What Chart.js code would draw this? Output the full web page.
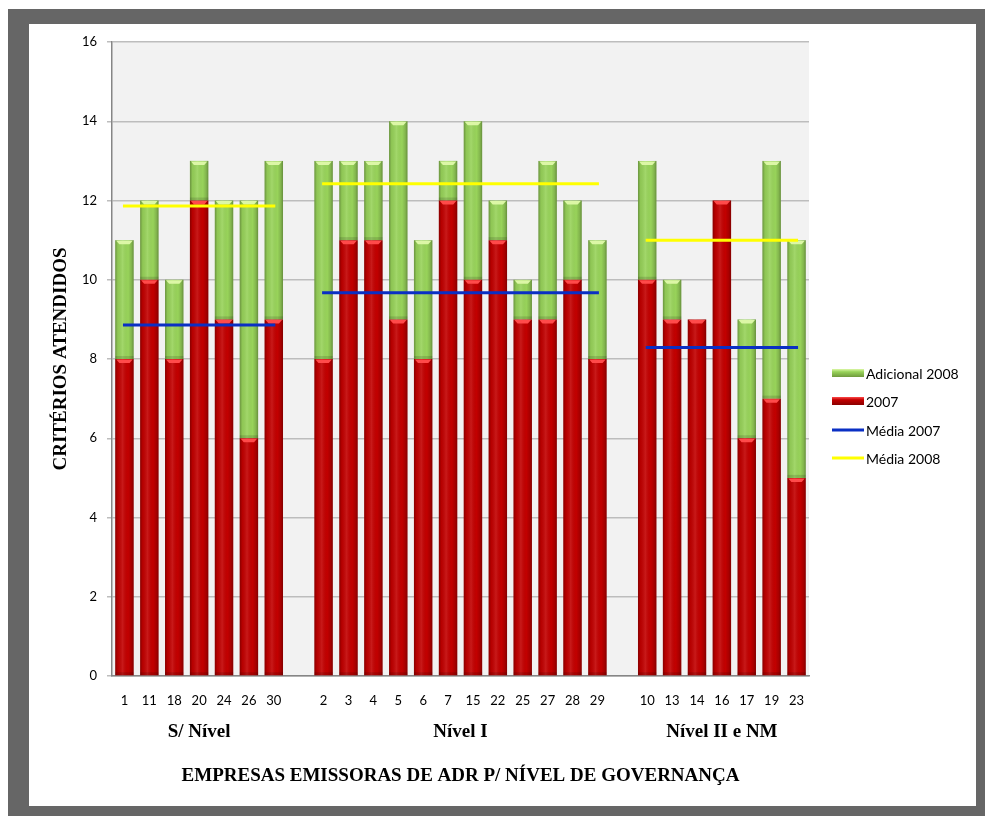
<!DOCTYPE html>
<html><head><meta charset="utf-8">
<script src="https://cdn.jsdelivr.net/npm/chart.js@4.4.1/dist/chart.umd.min.js"></script>
<style>html,body{margin:0;padding:0;background:#fff;}canvas{display:block;}</style>
</head><body>
<canvas id="c" width="985" height="816"></canvas>
<script>
// Governance groups and the ADR-issuing companies in each
const groupNames = ['S/ Nível', 'Nível I', 'Nível II e NM'];
const groupCompanies = [
  ['1', '11', '18', '20', '24', '26', '30'],
  ['2', '3', '4', '5', '6', '7', '15', '22', '25', '27', '28', '29'],
  ['10', '13', '14', '16', '17', '19', '23']
];
// Criteria met in 2007 and extra criteria met in 2008
const criterios2007 = [
  [8, 10, 8, 12, 9, 6, 9],
  [8, 11, 11, 9, 8, 12, 10, 11, 9, 9, 10, 8],
  [10, 9, 9, 12, 6, 7, 5]
];
const adicional2008 = [
  [3, 2, 2, 1, 3, 6, 4],
  [5, 2, 2, 5, 3, 1, 4, 1, 1, 4, 2, 3],
  [3, 1, 0, 0, 3, 6, 6]
];
// Group means
const media2007 = [8.86, 9.67, 8.29];
const media2008 = [11.86, 12.42, 11.0];
const yTickValues = [0, 2, 4, 6, 8, 10, 12, 14, 16];

// Flatten the groups onto one category axis with an empty slot between groups
const labels = [], red = [], green = [], avg07 = [], avg08 = [], groupCentres = [];
groupCompanies.forEach((companies, g) => {
  if (g > 0) { labels.push(''); red.push(null); green.push(null); avg07.push(null); avg08.push(null); }
  const start = labels.length;
  companies.forEach((name, i) => {
    labels.push(name);
    red.push(criterios2007[g][i]);
    green.push(adicional2008[g][i]);
    avg07.push(media2007[g]);
    avg08.push(media2008[g]);
  });
  groupCentres.push(start + (companies.length - 1) / 2);
});

const CAP = { '2007': '#ff4a4a', 'Adicional 2008': '#dcf7a6' };

// Outer frame and plot background
const frame = {
  id: 'frame',
  beforeDraw(chart) {
    const ctx = chart.ctx, a = chart.chartArea;
    ctx.save();
    ctx.fillStyle = '#fff'; ctx.fillRect(0, 0, 985, 816);
    ctx.fillStyle = '#666666'; ctx.fillRect(8, 9, 977, 807);
    ctx.fillStyle = '#fff'; ctx.fillRect(29, 24, 947, 782);
    ctx.fillStyle = '#f2f2f2'; ctx.fillRect(a.left, a.top, a.right - a.left, a.bottom - a.top);
    ctx.restore();
  }
};

// Cylinder-like shading on each bar drawn by the bar controller
const barShading = {
  id: 'barShading',
  afterDatasetDraw(chart, args) {
    const meta = args.meta;
    if (meta.type !== 'bar') return;
    const ds = chart.data.datasets[args.index];
    const ctx = chart.ctx;
    ctx.save();
    meta.data.forEach(bar => {
      const p = bar.getProps(['x', 'y', 'base', 'width'], true);
      if (p.y == null || isNaN(p.y)) return;
      const h = Math.abs(p.base - p.y);
      if (h < 1) return;
      const l = p.x - p.width / 2, w = p.width, top = Math.min(p.y, p.base);
      const g = ctx.createLinearGradient(l, 0, l + w, 0);
      g.addColorStop(0, 'rgba(0,0,0,0.30)');
      g.addColorStop(0.14, 'rgba(0,0,0,0.06)');
      g.addColorStop(0.4, 'rgba(255,255,255,0.10)');
      g.addColorStop(0.7, 'rgba(0,0,0,0)');
      g.addColorStop(0.88, 'rgba(0,0,0,0.14)');
      g.addColorStop(1, 'rgba(0,0,0,0.32)');
      ctx.fillStyle = g;
      ctx.fillRect(l, top, w, h);
      ctx.fillStyle = 'rgba(0,0,0,0.13)';
      ctx.fillRect(l, top + h - 3, w, 3);
      ctx.fillStyle = CAP[ds.label];
      ctx.beginPath();
      ctx.moveTo(l + 1, top + 0.5);
      ctx.lineTo(l + w - 1, top + 0.5);
      ctx.lineTo(l + w * 0.78, top + 4);
      ctx.lineTo(l + w * 0.22, top + 4);
      ctx.closePath();
      ctx.fill();
    });
    ctx.restore();
  }
};

// Legend at the right of the plot
const legendOrder = ['Adicional 2008', '2007', 'Média 2007', 'Média 2008'];
const sideLegend = {
  id: 'sideLegend',
  afterDraw(chart) {
    const ctx = chart.ctx;
    const x0 = chart.chartArea.right + 23, xText = x0 + 34;
    const rowY = [373, 401, 430, 458];
    ctx.save();
    ctx.font = '14px Lato';
    ctx.textBaseline = 'middle';
    ctx.fillStyle = '#000';
    legendOrder.forEach((name, i) => {
      const ds = chart.data.datasets.find(d => d.label === name);
      const y = rowY[i];
      if (ds.type === 'line') {
        ctx.fillStyle = ds.borderColor;
        ctx.fillRect(x0, y - 1.5, 32, 3);
      } else {
        const g = ctx.createLinearGradient(0, y - 4, 0, y + 4);
        g.addColorStop(0, CAP[name]);
        g.addColorStop(0.35, ds.backgroundColor);
        g.addColorStop(1, ds.borderColor);
        ctx.fillStyle = g;
        ctx.fillRect(x0, y - 4, 32, 8);
      }
      ctx.fillStyle = '#000';
      ctx.fillText(name, xText, y + 1);
    });
    ctx.restore();
  }
};

new Chart(document.getElementById('c'), {
  data: {
    labels,
    datasets: [
      { type: 'bar', label: '2007', data: red, backgroundColor: '#c20000', borderColor: '#8a0000',
        borderWidth: 0, stack: 'bars', order: 2, categoryPercentage: 1, barPercentage: 0.74 },
      { type: 'bar', label: 'Adicional 2008', data: green, backgroundColor: '#98d35a', borderColor: '#6f9a3c',
        borderWidth: 0, stack: 'bars', order: 2, categoryPercentage: 1, barPercentage: 0.74 },
      { type: 'line', label: 'Média 2007', data: avg07, borderColor: '#0a2fc4', borderWidth: 3,
        pointRadius: 0, spanGaps: false, stack: 'm07', order: 1, borderCapStyle: 'square' },
      { type: 'line', label: 'Média 2008', data: avg08, borderColor: '#ffff00', borderWidth: 3,
        pointRadius: 0, spanGaps: false, stack: 'm08', order: 0, borderCapStyle: 'square' }
    ]
  },
  options: {
    responsive: false,
    devicePixelRatio: 1,
    animation: false,
    layout: { padding: { left: 40, top: 42, right: 176, bottom: 20 } },
    plugins: { legend: { display: false }, tooltip: { enabled: false } },
    scales: {
      x: {
        type: 'category', position: 'bottom', stacked: true, weight: 0,
        grid: { display: false, drawTicks: false },
        border: { display: true, color: '#868686', width: 1.5 },
        ticks: { autoSkip: false, maxRotation: 0, padding: 17, color: '#000', font: { family: 'Lato', size: 13 } },
        afterFit(s) { s.height = 40; }
      },
      xg: {
        type: 'linear', position: 'bottom', weight: 1,
        min: -0.5, max: labels.length - 0.5,
        grid: { display: false, drawTicks: false },
        border: { display: false },
        afterBuildTicks(s) { s.ticks = groupCentres.map(v => ({ value: v })); },
        ticks: {
          padding: 5, color: '#000',
          font: { family: 'Liberation Serif', size: 19, weight: 'bold' },
          callback(v) { const i = groupCentres.indexOf(v); return i >= 0 ? groupNames[i] : ''; }
        },
        title: {
          display: true, text: 'EMPRESAS EMISSORAS DE ADR P/ NÍVEL DE GOVERNANÇA', color: '#000',
          font: { family: 'Liberation Serif', size: 19, weight: 'bold' }, padding: { top: 9, bottom: 9 }
        },
        afterFit(s) { s.height = 80; }
      },
      y: {
        stacked: true, min: 0, max: 16,
        afterBuildTicks(s) { s.ticks = yTickValues.map(v => ({ value: v })); },
        grid: { color: '#bdbdbd', lineWidth: 1.5, drawTicks: true, tickLength: 5 },
        border: { display: true, color: '#868686', width: 1.5 },
        ticks: { padding: 10, color: '#000', font: { family: 'Lato', size: 13 } },
        title: {
          display: true, text: 'CRITÉRIOS ATENDIDOS', color: '#000',
          font: { family: 'Liberation Serif', size: 19, weight: 'bold' }, padding: { top: 10, bottom: 0 }
        },
        afterFit(s) { s.width = 72; }
      }
    }
  },
  plugins: [frame, barShading, sideLegend]
});
</script>
</body></html>
